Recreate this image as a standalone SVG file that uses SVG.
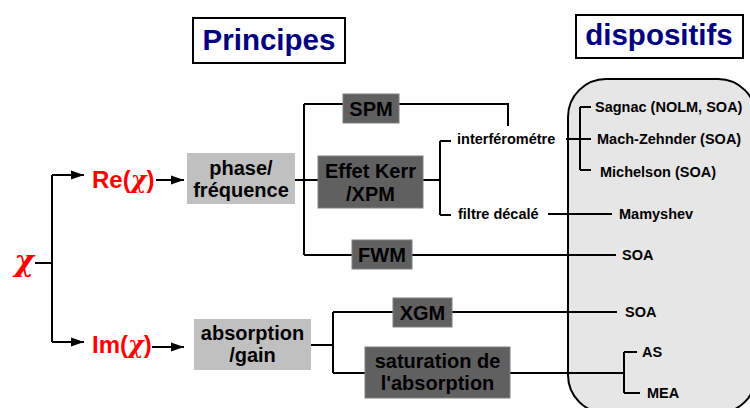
<svg xmlns="http://www.w3.org/2000/svg" width="750" height="408" viewBox="0 0 750 408">
<style>
text{font-family:"Liberation Sans",Arial,sans-serif;font-weight:bold}
.title{font-size:29.5px;fill:#000080;text-anchor:middle}
.tbox{fill:#fff;stroke:#000;stroke-width:2}
.light{fill:#c0c0c0}
.dark{fill:#606060;stroke:#808080;stroke-width:1}
.nt{font-size:20px;fill:#000;text-anchor:middle}
.sm{font-size:14.5px;fill:#000}
.red{fill:#ff0000}
.chi{font-family:"DejaVu Serif","Liberation Serif",serif;font-weight:bold;font-style:italic}
.ln{stroke:#000;stroke-width:2;fill:none}
</style>
<defs>
<marker id="ah" markerUnits="userSpaceOnUse" markerWidth="13" markerHeight="10" refX="13" refY="5" orient="auto">
<path d="M0,0.5 L13,5 L0,9.5 z" fill="#000"/>
</marker>
</defs>
<rect id="devices-area" x="568" y="79" width="188" height="334" rx="38" ry="38" fill="#e6e6e6" stroke="#000" stroke-width="2"/>
<g id="title-principes"><rect class="tbox" x="193" y="18" width="152" height="45"/><text class="title" x="269" y="50">Principes</text></g>
<g id="title-dispositifs"><rect class="tbox" x="576" y="15" width="167" height="43"/><text class="title" x="659" y="45">dispositifs</text></g>
<g id="connectors">
<path class="ln" d="M35,263 H52 M52,175 V342"/>
<path class="ln" d="M52,175 H84" marker-end="url(#ah)"/>
<path class="ln" d="M52,342 H84" marker-end="url(#ah)"/>
<path class="ln" d="M156,180 H184" marker-end="url(#ah)"/>
<path class="ln" d="M152,347 H184" marker-end="url(#ah)"/>
<path class="ln" d="M295,180 H440 M304,104 V255 M304,104 H508 V126 M304,255 H616"/>
<path class="ln" d="M440,141 V215 M440,141 H451 M440,215 H451"/>
<path class="ln" d="M566,139 H591 M580,107 V170 M580,107 H591 M580,170 H591"/>
<path class="ln" d="M548,214 H612"/>
<path class="ln" d="M311,345 H333 M333,312 V373 M333,312 H617 M333,373 H624 M624,352 V393 M624,352 H637 M624,393 H640"/>
</g>
<g id="chi"><text class="red chi" x="24" y="271" font-size="30" text-anchor="middle">χ</text></g>
<g id="re"><text class="red" x="92" y="188" font-size="24">Re(<tspan class="chi">χ</tspan>)</text></g>
<g id="im"><text class="red" x="92" y="353" font-size="24">Im(<tspan class="chi">χ</tspan>)</text></g>
<g id="phase"><rect class="light" x="187" y="153" width="108" height="51"/><text class="nt" x="241" y="175">phase/</text><text class="nt" x="241" y="197">fréquence</text></g>
<g id="absorption"><rect class="light" x="194" y="319" width="117" height="51"/><text class="nt" x="252.5" y="340">absorption</text><text class="nt" x="252.5" y="362">/gain</text></g>
<g id="spm"><rect class="dark" x="343" y="94" width="56" height="29"/><text class="nt" x="371" y="115.5">SPM</text></g>
<g id="kerr"><rect class="dark" x="318" y="156" width="105" height="52"/><text class="nt" x="370.5" y="178">Effet Kerr</text><text class="nt" x="370.5" y="201">/XPM</text></g>
<g id="fwm"><rect class="dark" x="352" y="240" width="60" height="29"/><text class="nt" x="382" y="262">FWM</text></g>
<g id="xgm"><rect class="dark" x="393" y="298" width="59" height="29"/><text class="nt" x="422.5" y="320">XGM</text></g>
<g id="saturation"><rect class="dark" x="365" y="347" width="145" height="51"/><text class="nt" x="437.5" y="368">saturation de</text><text class="nt" x="437.5" y="390">l'absorption</text></g>
<g id="interferometre"><text class="sm" x="457" y="144">interférométre</text></g>
<g id="filtre"><text class="sm" x="458" y="219">filtre décalé</text></g>
<g id="sagnac"><text class="sm" x="595" y="112">Sagnac (NOLM, SOA)</text></g>
<g id="mach"><text class="sm" x="597" y="144">Mach-Zehnder (SOA)</text></g>
<g id="michelson"><text class="sm" x="600" y="177">Michelson (SOA)</text></g>
<g id="mamyshev"><text class="sm" x="619" y="219">Mamyshev</text></g>
<g id="soa1"><text class="sm" x="622" y="260">SOA</text></g>
<g id="soa2"><text class="sm" x="625" y="317">SOA</text></g>
<g id="as"><text class="sm" x="642" y="357">AS</text></g>
<g id="mea"><text class="sm" x="647" y="398">MEA</text></g>
</svg>
